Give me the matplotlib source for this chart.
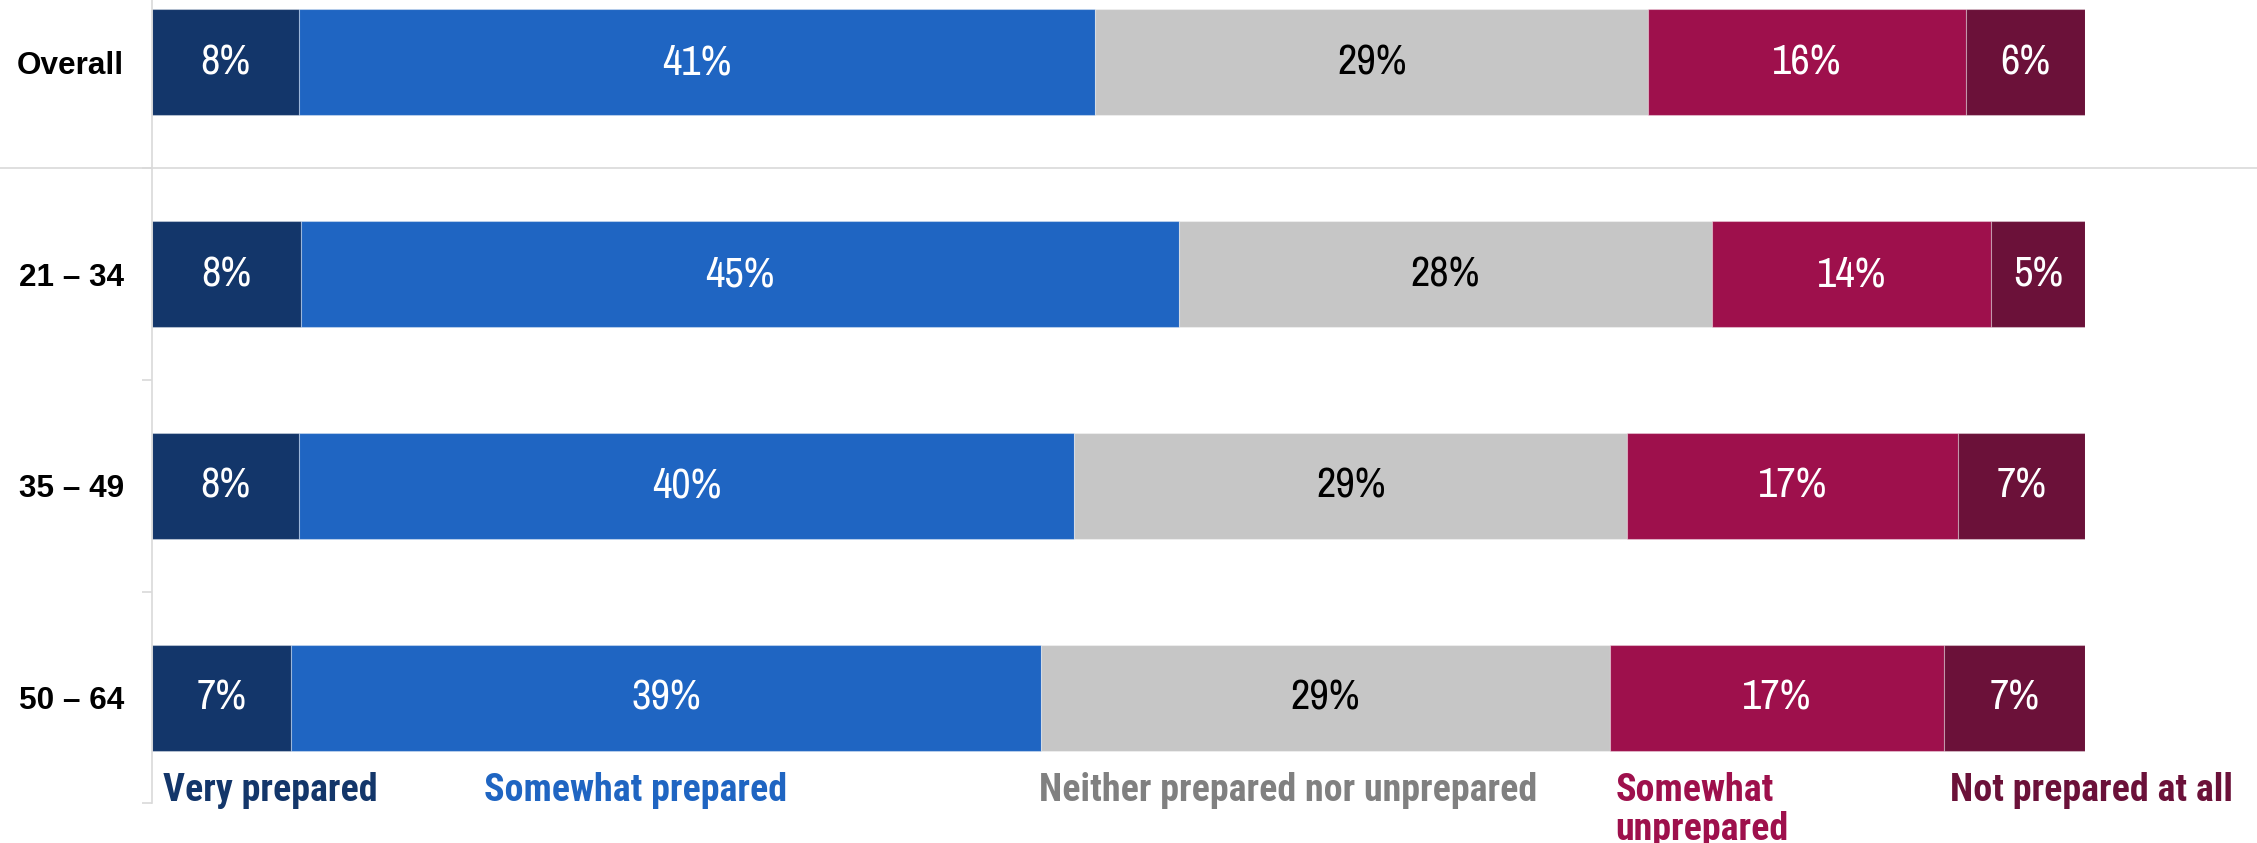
import matplotlib
matplotlib.use("Agg")
import matplotlib.pyplot as plt
from matplotlib import font_manager
from matplotlib.transforms import blended_transform_factory

# survey shares by age group (percent of respondents)
groups = ["Overall", "21 – 34", "35 – 49", "50 – 64"]
categories = [
    "Very prepared",
    "Somewhat prepared",
    "Neither prepared nor unprepared",
    "Somewhat\nunprepared",
    "Not prepared at all",
]
very_prepared = [7.6, 7.7, 7.6, 7.2]
somewhat_prepared = [41.2, 45.4, 40.1, 38.8]
neither = [28.6, 27.6, 28.6, 29.4]
somewhat_unprepared = [16.4, 14.4, 17.1, 17.3]
not_prepared = [6.2, 4.9, 6.6, 7.3]

series = [very_prepared, somewhat_prepared, neither, somewhat_unprepared, not_prepared]
bar_colors = ["#13366a", "#1f65c2", "#c6c6c6", "#9e104c", "#6b1139"]
label_colors = ["white", "white", "black", "white", "white"]
legend_colors = ["#13366a", "#1f65c2", "#808080", "#9e104c", "#6b1139"]
legend_x = [0.006, 0.172, 0.459, 0.757, 0.930]


def weight_of(f):
    w = f.weight
    if isinstance(w, str):
        w = font_manager.weight_dict.get(w, 400)
    return w


# condensed faces: regular for the values, bold for the category names
faces = {}
for f in font_manager.fontManager.ttflist:
    faces.setdefault(f.name, set()).add(weight_of(f))

candidates = ["Liberation Sans Narrow", "Arial Narrow", "Archivo Narrow",
              "Roboto Condensed", "PT Sans Narrow", "Asap Condensed",
              "Barlow Condensed", "Fira Sans Condensed"]
narrow = next((n for n in candidates if n in faces), "Liberation Sans")
narrow_bold = next((n for n in candidates if max(faces.get(n, {0})) >= 700), "Liberation Sans")

fig = plt.figure(figsize=(22.57, 8.43), dpi=100)
ax = fig.add_axes([0.0673, 0.0469, 0.8567, 0.9531])

y = list(range(len(groups)))
left = [0.0] * len(groups)
for vals, color, tcolor in zip(series, bar_colors, label_colors):
    ax.barh(y, vals, left=left, height=0.5, color=color,
            edgecolor=(1, 1, 1, 0.35), linewidth=0.8)
    for yi, l, v in zip(y, left, vals):
        ax.text(l + v / 2, yi, f"{v:.0f}%", ha="center", va="center",
                color=tcolor, fontsize=30.5, family=narrow)
    left = [a + b for a, b in zip(left, vals)]

ax.set_xlim(0, 100)
ax.set_ylim(3.5, -0.294)
ax.set_xticks([])
ax.set_yticks(y)
ax.set_yticklabels(groups, fontsize=22.7, fontweight="bold", family="Liberation Sans")
ax.set_yticks([0.5, 1.5, 2.5, 3.5], minor=True)
ax.tick_params(axis="y", which="major", length=0, pad=20)
ax.tick_params(axis="y", which="minor", length=7, width=1.2, color="#d9d9d9")

for side in ["top", "right", "bottom"]:
    ax.spines[side].set_visible(False)
ax.spines["left"].set_color("#d9d9d9")
ax.spines["left"].set_linewidth(1.2)

# divider between the overall row and the age groups, full figure width
trans = blended_transform_factory(fig.transFigure, ax.transData)
ax.plot([0, 1], [0.5, 0.5], transform=trans, color="#d9d9d9",
        linewidth=1.2, clip_on=False)

# category names under the bars
name_trans = blended_transform_factory(ax.transAxes, ax.transData)
for name, color, xpos in zip(categories, legend_colors, legend_x):
    ax.text(xpos, 3.351, name, transform=name_trans,
            ha="left", va="top", color=color, fontsize=27.4, fontweight="bold",
            family=narrow_bold, linespacing=1.08, clip_on=False)

fig.savefig("out.png", dpi=100)
